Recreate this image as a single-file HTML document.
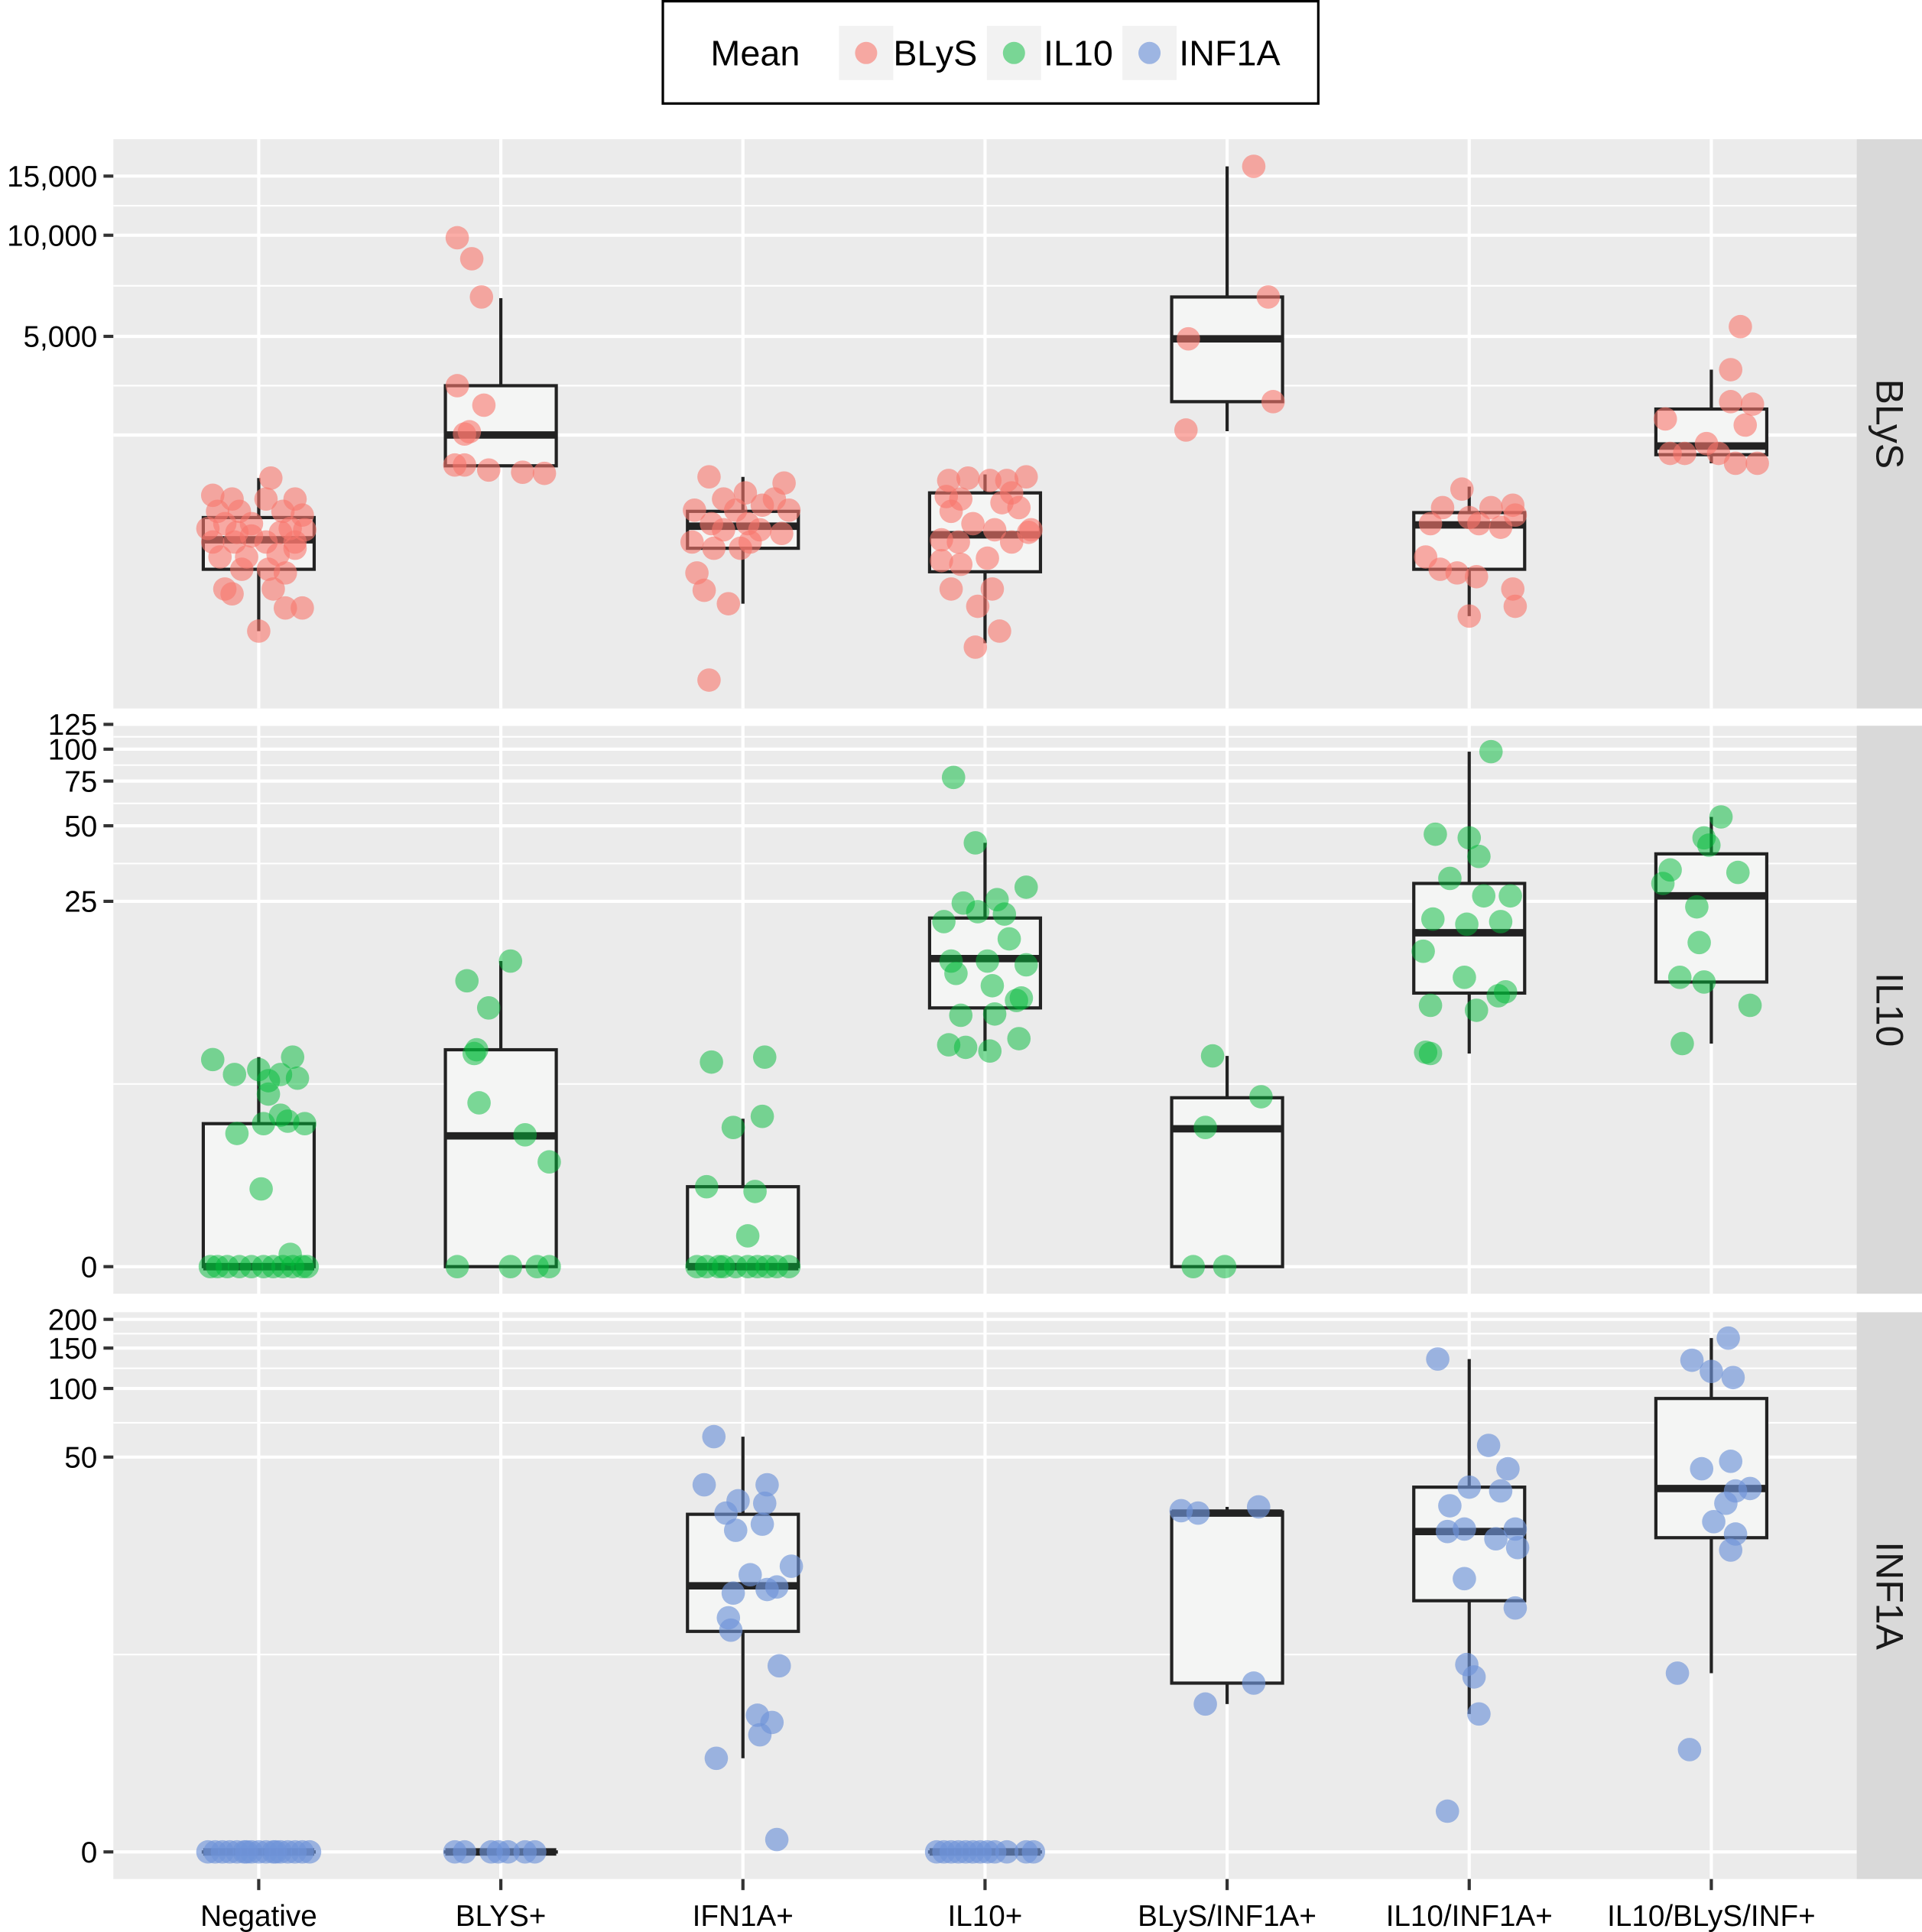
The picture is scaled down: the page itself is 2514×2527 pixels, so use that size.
<!DOCTYPE html>
<html><head><meta charset="utf-8"><style>
html,body{margin:0;padding:0;background:#fff}
svg{display:block}
text{font-family:"Liberation Sans",sans-serif}
</style></head><body>
<svg id="chart" width="2514" height="2527" viewBox="0 0 1560 1568" preserveAspectRatio="none" xmlns="http://www.w3.org/2000/svg">
<g>
<rect x="538" y="1" width="532" height="83" fill="#fff" stroke="#000" stroke-width="2"/>
<text x="613" y="53" font-size="29" text-anchor="middle" fill="#000">Mean</text>
<rect x="681" y="21" width="44" height="44" fill="#f2f2f2"/>
<circle cx="703" cy="43" r="9" fill="#f8766d" fill-opacity="0.6"/>
<text x="725" y="53" font-size="29" fill="#000">BLyS</text>
<rect x="801" y="21" width="44" height="44" fill="#f2f2f2"/>
<circle cx="823" cy="43" r="9" fill="#00ba38" fill-opacity="0.5"/>
<text x="847" y="53" font-size="29" fill="#000">IL10</text>
<rect x="911" y="21" width="44" height="44" fill="#f2f2f2"/>
<circle cx="933" cy="43" r="9" fill="#6f94d8" fill-opacity="0.65"/>
<text x="957" y="53" font-size="29" fill="#000">INF1A</text>
</g>
<g id="plots"></g>
</svg>
<script>
const categories = ["Negative","BLYS+","IFN1A+","IL10+","BLyS/INF1A+","IL10/INF1A+","IL10/BLyS/INF+"];

// BLyS panel: points [categoryIndex, jitter(-0.25..0.25), value]
const blysPoints = [
[0,0.05,1893],[0,-0.19,1682],[0,-0.11,1640],[0,0.03,1640],[0,0.15,1640],[0,-0.17,1507],[0,-0.08,1507],[0,0.10,1507],[0,0.18,1469],[0,-0.21,1340],[0,-0.14,1385],[0,-0.03,1385],[0,0.13,1340],[0,-0.19,1221],[0,-0.10,1221],[0,0.03,1221],[0,0.15,1221],[0,0.19,1328],[0,-0.16,1102],[0,-0.05,1102],[0,0.08,1121],[0,0.15,1170],[0,-0.07,1013],[0,0.04,1013],[0,0.11,988],[0,-0.14,885],[0,-0.11,856],[0,0.06,885],[0,0.11,777],[0,0.18,777],[0,0.0,663],[0,-0.03,1273],[0,0.09,1305],[0,-0.09,1305],
[1,-0.18,9830],[1,-0.12,8513],[1,-0.08,6550],[1,-0.18,3566],[1,-0.07,3120],[1,-0.15,2560],[1,-0.13,2600],[1,-0.19,2070],[1,-0.15,2070],[1,-0.05,2000],[1,0.09,1970],[1,0.18,1955],
[2,-0.14,1909],[2,0.17,1830],[2,0.01,1710],[2,-0.08,1640],[2,0.13,1640],[2,0.08,1572],[2,-0.20,1519],[2,-0.03,1519],[2,0.19,1519],[2,-0.13,1385],[2,0.02,1385],[2,-0.08,1328],[2,0.07,1328],[2,0.16,1295],[2,-0.21,1221],[2,-0.12,1170],[2,-0.01,1170],[2,0.03,1221],[2,-0.19,988],[2,-0.16,877],[2,-0.06,800],[2,-0.14,474],
[3,-0.15,1862],[3,-0.07,1893],[3,0.02,1862],[3,0.09,1862],[3,0.17,1909],[3,-0.16,1668],[3,-0.10,1640],[3,0.07,1599],[3,0.11,1710],[3,-0.14,1507],[3,0.14,1546],[3,-0.05,1385],[3,0.04,1328],[3,0.18,1305],[3,-0.18,1240],[3,-0.11,1221],[3,0.11,1221],[3,0.19,1328],[3,-0.18,1075],[3,-0.10,1048],[3,0.01,1093],[3,-0.14,885],[3,0.03,885],[3,-0.03,786],[3,0.06,663],[3,-0.04,594],
[4,0.11,16037],[4,0.17,6550],[4,-0.16,4916],[4,0.19,3196],[4,-0.17,2631],
[5,-0.03,1755],[5,-0.11,1546],[5,0.09,1546],[5,0.18,1572],[5,0.0,1444],[5,-0.16,1385],[5,0.04,1385],[5,0.13,1351],[5,0.19,1469],[5,-0.18,1102],[5,-0.12,1013],[5,-0.05,988],[5,0.03,963],[5,0.18,885],[5,0.19,786],[5,0.0,735],
[6,0.12,5345],[6,0.08,3980],[6,-0.19,2839],[6,0.08,3196],[6,0.17,3142],[6,0.14,2722],[6,-0.02,2398],[6,-0.17,2242],[6,-0.11,2242],[6,0.03,2242],[6,0.10,2095],[6,0.19,2095]
];
// box stats per category: [whiskerLow, q1, median, q3, whiskerHigh]
const blysBoxes = [[663,1013,1240,1444,1893],[2059,2059,2543,3566,6497],[800,1170,1361,1507,1909],[610,996,1283,1710,1941],[2610,3196,4916,6550,16037],[735,1013,1373,1494,1785],[2095,2222,2358,3038,3980]];
const blysTicks = [5000,10000,15000];
const blysTickLabels = ["5,000","10,000","15,000"];
const blysGrid = [2543,5000,10000,15000];
const blysMinor = [3566,7071,12247];

const il10Points = [
[0,-0.19,5.34],[0,-0.10,4.55],[0,0.0,4.80],[0,0.04,4.25],[0,0.14,5.48],[0,0.09,4.55],[0,0.16,4.37],[0,0.04,3.66],[0,-0.09,2.28],[0,0.02,2.58],[0,0.09,2.86],[0,0.12,2.66],[0,0.19,2.58],[0,0.01,1.0],[0,0.13,0.116],
[0,-0.2,0],[0,-0.17,0],[0,-0.13,0],[0,-0.08,0],[0,-0.03,0],[0,0.02,0],[0,0.06,0],[0,0.1,0],[0,0.14,0],[0,0.18,0],[0,0.2,0],
[1,0.04,14.26],[1,-0.14,11.8],[1,-0.05,9.05],[1,-0.10,5.92],[1,-0.11,5.69],[1,-0.09,3.31],[1,0.10,2.24],[1,0.20,1.545],[1,-0.18,0],[1,0.04,0],[1,0.15,0],[1,0.2,0],
[2,-0.13,5.2],[2,0.09,5.48],[2,0.08,2.82],[2,-0.04,2.46],[2,-0.15,1.04],[2,0.05,0.955],[2,0.02,0.316],[2,-0.19,0],[2,-0.15,0],[2,-0.1,0],[2,-0.08,0],[2,-0.03,0],[2,0.02,0],[2,0.06,0],[2,0.1,0],[2,0.14,0],[2,0.19,0],
[3,-0.13,77.5],[3,-0.04,42.8],[3,0.17,28.5],[3,0.05,25.4],[3,-0.17,20.7],[3,-0.03,22.7],[3,0.08,22.2],[3,-0.09,24.6],[3,0.10,17.6],[3,-0.14,14.26],[3,0.01,14.26],[3,-0.12,12.67],[3,0.17,13.76],[3,0.03,11.25],[3,0.15,9.98],[3,0.13,9.74],[3,-0.10,8.41],[3,0.04,8.52],[3,-0.15,6.23],[3,-0.08,6.07],[3,0.02,5.84],[3,0.14,6.64],
[4,-0.06,5.55],[4,0.14,3.55],[4,-0.09,2.46],[4,-0.14,0],[4,-0.01,0],
[5,0.09,97.8],[5,-0.14,46.3],[5,0.0,44.8],[5,0.04,37.8],[5,-0.08,30.9],[5,0.06,26.3],[5,0.17,26.3],[5,-0.15,21.2],[5,-0.01,20.2],[5,0.13,20.7],[5,-0.19,15.66],[5,-0.02,12.2],[5,0.15,10.6],[5,0.12,10.2],[5,-0.16,9.28],[5,0.03,8.84],[5,-0.18,5.77],[5,-0.16,5.69],
[6,0.04,54.2],[6,-0.03,44.8],[6,-0.01,41.9],[6,-0.17,33.4],[6,0.11,32.65],[6,-0.20,29.5],[6,-0.06,23.75],[6,-0.05,17],[6,-0.13,12.2],[6,-0.03,11.66],[6,0.16,9.28],[6,-0.12,6.31]
];
const il10Boxes = [[0,0,0,2.58,5.48],[0,0,2.21,5.92,14.26],[0,0,0,1.04,2.74],[5.84,9.05,14.6,21.4,42.8],[0,0,2.42,3.51,5.55],[5.69,10.47,18.65,29.5,97.8],[6.31,11.66,26.3,38.7,54.2]];
const il10Ticks = [0,25,50,75,100,125];
const il10TickLabels = ["0","25","50","75","100","125"];

const inf1aPoints = [
[0,-0.21,0],[0,-0.18,0],[0,-0.15,0],[0,-0.12,0],[0,-0.09,0],[0,-0.06,0],[0,-0.03,0],[0,0,0],[0,0.03,0],[0,0.06,0],[0,0.09,0],[0,0.12,0],[0,0.15,0],[0,0.18,0],[0,0.21,0],[0,-0.05,0],[0,0.07,0],
[1,-0.19,0],[1,-0.15,0],[1,-0.04,0],[1,-0.01,0],[1,0.03,0],[1,0.1,0],[1,0.14,0],
[2,-0.12,61.5],[2,-0.16,37.7],[2,0.10,37.7],[2,-0.02,32.0],[2,-0.07,28.2],[2,0.09,31.2],[2,0.08,25.15],[2,-0.03,23.6],[2,0.20,16.2],[2,0.03,14.8],[2,-0.04,12.16],[2,0.10,12.64],[2,0.14,12.99],[2,-0.06,9.29],[2,-0.05,8.1],[2,0.15,5.38],[2,0.06,2.9],[2,0.12,2.63],[2,0.07,2.21],[2,-0.11,1.54],[2,0.14,0.131],
[3,-0.2,0],[3,-0.17,0],[3,-0.14,0],[3,-0.11,0],[3,-0.08,0],[3,-0.05,0],[3,-0.02,0],[3,0.01,0],[3,0.04,0],[3,0.09,0],[3,0.17,0],[3,0.2,0],
[4,-0.19,28.9],[4,-0.12,28.2],[4,0.13,30.06],[4,0.11,4.37],[4,-0.09,3.36],
[5,-0.13,134.4],[5,0.08,56.3],[5,0.16,44.4],[5,0.0,36.8],[5,-0.08,30.4],[5,0.13,35.4],[5,-0.09,23.3],[5,-0.02,23.9],[5,0.11,21.6],[5,0.19,23.9],[5,0.20,19.7],[5,-0.02,14.2],[5,0.19,10.35],[5,-0.01,5.46],[5,0.02,4.71],[5,0.04,2.95],[5,-0.09,0.5],
[6,0.07,165.8],[6,-0.08,132.8],[6,0,118.7],[6,0.09,111.6],[6,-0.04,44.4],[6,0.08,47.9],[6,0.16,36.3],[6,0.10,35.4],[6,0.06,31.2],[6,0.01,25.8],[6,0.10,22.7],[6,0.08,19.2],[6,-0.14,4.93],[6,-0.09,1.77]
];
const inf1aBoxes = [[0,0,0,0,0],[0,0,0,0,0],[1.54,7.99,13.15,27.85,61.5],[0,0,0,0,0],[3.36,4.37,28.2,28.5,30.06],[2.95,11.2,23.3,36.8,134.4],[4.93,21.85,36.3,90.4,165.8]];
const inf1aTicks = [0,50,100,150,200];
const inf1aTickLabels = ["0","50","100","150","200"];

const NS = "http://www.w3.org/2000/svg";
const root = document.getElementById("plots");
const PX0 = 92, PX1 = 1507;
function xScale(i){ return 210 + i * 196.5; }
function mk(tag, attrs, parent){ const e = document.createElementNS(NS, tag); for (const k in attrs) e.setAttribute(k, attrs[k]); parent.appendChild(e); return e; }

const panels = [
 {name:"blys", strip:"BLyS", top:113, bottom:575, color:"#f8766d", op:0.6,
  y: v => 273 - 118.4 * Math.log(v / 5000),
  points: blysPoints, boxes: blysBoxes, ticks: blysTicks, labels: blysTickLabels, grid: blysGrid, minor: blysMinor},
 {name:"il10", strip:"IL10", top:589, bottom:1050, color:"#00ba38", op:0.5,
  y: v => 1028 - 91 * Math.log(1 + v),
  points: il10Points, boxes: il10Boxes, ticks: il10Ticks, labels: il10TickLabels, grid: il10Ticks, minor: null},
 {name:"inf1a", strip:"INF1A", top:1065, bottom:1525, color:"#6f94d8", op:0.65,
  y: v => 1503 - 81.5 * Math.log(1 + v),
  points: inf1aPoints, boxes: inf1aBoxes, ticks: inf1aTicks, labels: inf1aTickLabels, grid: inf1aTicks, minor: null}
];

panels.forEach(p => {
  const g = mk("g", {}, root);
  
  
  const bg = mk("rect", {x:PX0, y:p.top, width:PX1-PX0, height:p.bottom-p.top, fill:"#ebebeb"}, g);
  
  
  const gridYs = p.grid.map(p.y);
  const minorYs = p.minor ? p.minor.map(p.y) : gridYs.slice(0, -1).map((y, i) => (y + gridYs[i + 1]) / 2);
  minorYs.forEach(y => {
    const l = mk("line", {x1:PX0, x2:PX1, y1:y, y2:y, stroke:"#fff", "stroke-width":1.3}, g);
    
    
  });
  gridYs.forEach(y => {
    const l = mk("line", {x1:PX0, x2:PX1, y1:y, y2:y, stroke:"#fff", "stroke-width":2.6}, g);
    
    
  });
  categories.forEach((c, i) => {
    const l = mk("line", {x1:xScale(i), x2:xScale(i), y1:p.top, y2:p.bottom, stroke:"#fff", "stroke-width":2.6}, g);
    
    
  });
  p.ticks.forEach((t, i) => {
    const y = p.y(t);
    const tk = mk("line", {x1:84, x2:92, y1:y, y2:y, stroke:"#333", "stroke-width":2.6}, g);
    
    
    const tx = mk("text", {x:79, y:y + 8.5, "font-size":24, "text-anchor":"end", fill:"#000"}, g);
    tx.textContent = p.labels[i];
    
    
  });
  p.boxes.forEach((b, i) => {
    const cx = xScale(i), hw = 45;
    const bg2 = mk("g", {}, g);
    
    
    mk("line", {x1:cx, x2:cx, y1:p.y(b[0]), y2:p.y(b[1]), stroke:"#222", "stroke-width":2.6}, bg2);
    mk("line", {x1:cx, x2:cx, y1:p.y(b[3]), y2:p.y(b[4]), stroke:"#222", "stroke-width":2.6}, bg2);
    const yq3 = p.y(b[3]), yq1 = p.y(b[1]);
    mk("rect", {x:cx-hw, y:yq3, width:2*hw, height:Math.max(yq1-yq3, 0.1), fill:"#f4f5f4", stroke:"#222", "stroke-width":2.6}, bg2);
    const ym = p.y(b[2]);
    mk("line", {x1:cx-hw, x2:cx+hw, y1:ym, y2:ym, stroke:"#222", "stroke-width":6}, bg2);
  });
  p.points.forEach(pt => {
    const c = mk("circle", {cx:xScale(pt[0] + pt[1]), cy:p.y(pt[2]), r:9.5, fill:p.color, "fill-opacity":p.op}, g);
    
    
  });
  const st = mk("rect", {x:1507, y:p.top, width:53, height:p.bottom-p.top, fill:"#d9d9d9"}, g);
  
  
  const my = (p.top + p.bottom) / 2;
  const stx = mk("text", {x:1523, y:my, "font-size":31, "text-anchor":"middle", fill:"#1a1a1a", transform:"rotate(90 1523 " + my + ")"}, g);
  stx.textContent = p.strip;
  
  
});
categories.forEach((c, i) => {
  const x = xScale(i);
  const tk = mk("line", {x1:x, x2:x, y1:1525, y2:1534, stroke:"#333", "stroke-width":2.6}, root);
  
  
  const t = mk("text", {x:x, y:1563, "font-size":24, "text-anchor":"middle", fill:"#000"}, root);
  t.textContent = c;
  
  
});
</script>
</body></html>
